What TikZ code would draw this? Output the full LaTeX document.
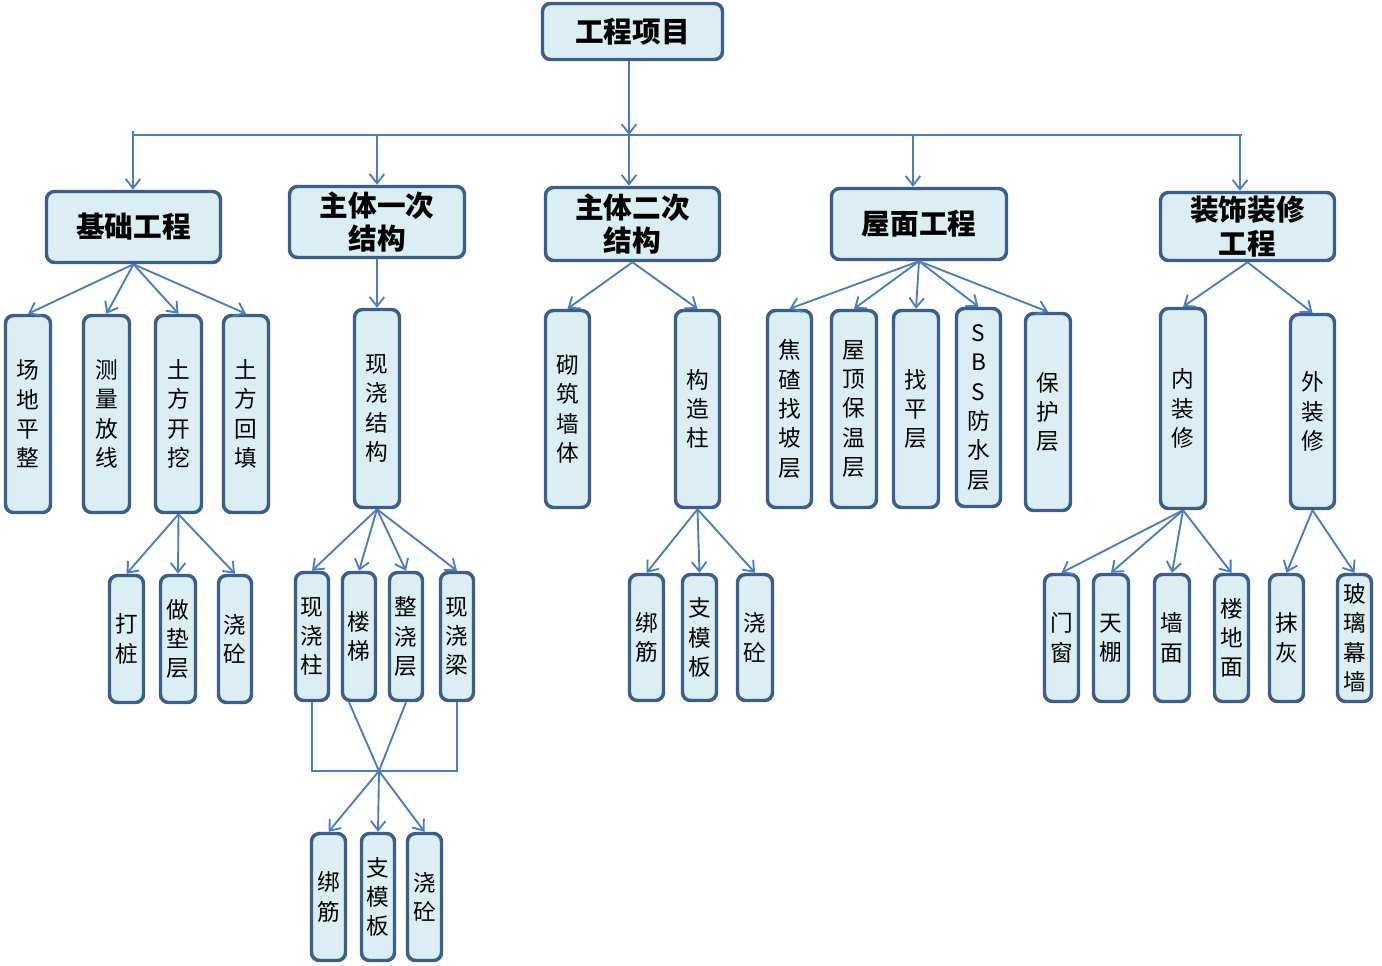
\documentclass[tikz,border=0pt]{standalone}
\usepackage{fontspec}
\setmainfont{Noto Sans CJK SC}
\usetikzlibrary{arrows.meta,calc}
\definecolor{fillc}{HTML}{DBEEF4}
\definecolor{edgec}{HTML}{3B5E8C}
\definecolor{linec}{HTML}{4A7EBF}
\tikzset{
 base/.style={draw=edgec, fill=fillc, line width=2.6pt, rounded corners=6pt, inner sep=0pt, align=center},
 topbox/.style={base, font=\fontsize{21.5}{25}\selectfont\bfseries},
 leaf/.style={base, font=\fontsize{17}{22}\selectfont},
 conn/.style={draw=linec, line width=1.4pt},
 arr/.style={conn, -{Straight Barb[length=7pt,width=11pt,line width=1.4pt]}},
}
\newcommand\mybox[7]{\node[#1, minimum width={(#5-#3-3)*0.75pt}, minimum height={(#6-#4-3)*0.75pt}] (#2) at ({(#3+#5)/2},{(#4+#6)/2}) {#7};}
\begin{document}
\begin{tikzpicture}[x=0.75pt,y=-0.75pt]
\fill[white] (0,0) rectangle (1382,965);
\useasboundingbox (0,0) rectangle (1382,965);
% level 1-2
\mybox{topbox}{root}{541}{2}{724}{61}{工程项目}
\mybox{topbox}{jc}{45}{190}{222}{264}{基础工程}
\mybox{topbox}{zt1}{288}{185}{466}{259}{主体一次\\结构}
\mybox{topbox}{zt2}{544}{186}{721}{262}{主体二次\\结构}
\mybox{topbox}{wm}{830}{187}{1008}{261}{屋面工程}
\mybox{topbox}{zs}{1159}{191}{1336}{262}{装饰装修\\工程}
% 基础
\mybox{leaf}{cd}{4}{314}{52}{514}{场\\地\\平\\整}
\mybox{leaf}{cl}{82}{314}{131}{514}{测\\量\\放\\线}
\mybox{leaf}{tk}{154}{314}{203}{514}{土\\方\\开\\挖}
\mybox{leaf}{th}{222}{314}{270}{514}{土\\方\\回\\填}
\mybox{leaf}{dz}{108}{574}{145}{704}{打\\桩}
\mybox{leaf}{zd}{159}{574}{197}{704}{做\\垫\\层}
\mybox{leaf}{jta}{217}{574}{253}{704}{浇\\砼}
% 主体一次
\mybox{leaf}{xj}{353}{308}{401}{509}{现\\浇\\结\\构}
\mybox{leaf}{xz}{294}{571}{330}{702}{现\\浇\\柱}
\mybox{leaf}{lt}{341}{571}{377}{702}{楼\\梯}
\mybox{leaf}{zj}{388}{571}{424}{702}{整\\浇\\层}
\mybox{leaf}{xl}{439}{571}{475}{702}{现\\浇\\梁}
\mybox{leaf}{bja}{310}{832}{347}{962}{绑\\筋}
\mybox{leaf}{zma}{360}{832}{396}{962}{支\\模\\板}
\mybox{leaf}{jtb}{406}{832}{443}{962}{浇\\砼}
% 主体二次
\mybox{leaf}{qz}{544}{309}{591}{509}{砌\\筑\\墙\\体}
\mybox{leaf}{gz}{674}{309}{721}{509}{构\\造\\柱}
\mybox{leaf}{bjb}{628}{573}{665}{702}{绑\\筋}
\mybox{leaf}{zmb}{681}{573}{718}{702}{支\\模\\板}
\mybox{leaf}{jtc}{736}{573}{774}{702}{浇\\砼}
% 屋面
\mybox{leaf}{jz}{766}{309}{813}{509}{焦\\碴\\找\\坡\\层}
\mybox{leaf}{bw}{830}{309}{878}{509}{屋\\顶\\保\\温\\层}
\mybox{leaf}{zp}{892}{309}{940}{509}{找\\平\\层}
\mybox{leaf}{fs}{955}{307}{1002}{508}{S\\B\\S\\防\\水\\层}
\mybox{leaf}{bh}{1024}{312}{1072}{512}{保\\护\\层}
% 装饰
\mybox{leaf}{nz}{1159}{307}{1207}{510}{内\\装\\修}
\mybox{leaf}{wz}{1289}{313}{1336}{510}{外\\装\\修}
\mybox{leaf}{mc}{1043}{573}{1080}{703}{门\\窗}
\mybox{leaf}{tp}{1092}{573}{1130}{703}{天\\棚}
\mybox{leaf}{qm}{1153}{573}{1191}{703}{墙\\面}
\mybox{leaf}{ld}{1213}{573}{1250}{703}{楼\\地\\面}
\mybox{leaf}{mh}{1268}{573}{1305}{703}{抹\\灰}
\mybox{leaf}{bl}{1336}{573}{1373}{703}{玻\\璃\\幕\\墙}
% bus
\coordinate (bL) at (133,135);
\coordinate (bR) at (1242,135);
\coordinate (b1) at (133,135);
\coordinate (b2) at (377,135);
\coordinate (b3) at (629,135);
\coordinate (b4) at (913,135);
\coordinate (b5) at (1240,135);
\draw[conn] (bL) -- (bR);
\draw[arr] (b3 |- root.south) -- (b3);
\draw[conn] ([yshift=3pt]b1) -- (b1);
\draw[arr] (b1) -- (b1 |- jc.north);
\draw[arr] (b2) -- (b2 |- zt1.north);
\draw[arr] (b3) -- (b3 |- zt2.north);
\draw[arr] (b4) -- (b4 |- wm.north);
\draw[arr] (b5) -- (b5 |- zs.north);
% fans
\foreach \c in {cd,cl,tk,th} \draw[arr] (jc.south) -- (\c.north);
\foreach \c in {dz,zd,jta} \draw[arr] (tk.south) -- (\c.north);
\draw[arr] (zt1.south) -- (xj.north);
\foreach \c in {xz,lt,zj,xl} \draw[arr] (xj.south) -- (\c.north);
\foreach \c in {qz,gz} \draw[arr] (zt2.south) -- (\c.north);
\foreach \c in {bjb,zmb,jtc} \draw[arr] (gz.south) -- (\c.north);
\foreach \c in {jz,bw,zp,fs,bh} \draw[arr] (wm.south) -- (\c.north);
\foreach \c in {nz,wz} \draw[arr] (zs.south) -- (\c.north);
\foreach \c in {mc,tp,qm,ld} \draw[arr] (nz.south) -- (\c.north);
\foreach \c in {mh,bl} \draw[arr] (wz.south) -- (\c.north);
% junction
\coordinate (J) at (379,771);
\draw[conn] (xz.south) -- (xz.south |- J) -- (xl.south |- J) -- (xl.south);
\draw[conn] ([xshift=-7.5pt]lt.south) -- (J);
\draw[conn] (zj.south) -- (J);
\foreach \c in {bja,zma,jtb} \draw[arr] (J) -- (\c.north);
\end{tikzpicture}
\end{document}
